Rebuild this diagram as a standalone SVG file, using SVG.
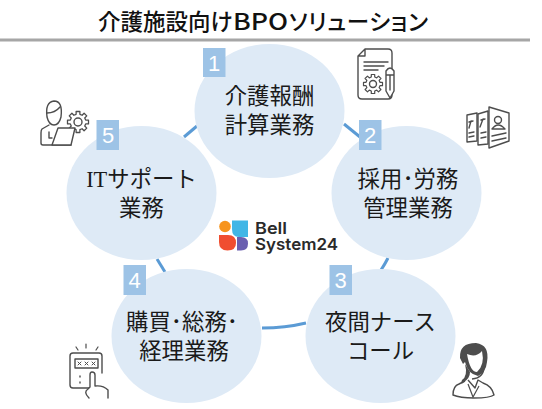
<svg xmlns="http://www.w3.org/2000/svg" width="542" height="409" viewBox="0 0 542 409">
<style>
.c{fill:#deeaf6}
.b{fill:#9dc3e6}
.n{font:22.4px "Noto Sans CJK JP","Noto Sans",sans-serif;fill:#1a1a1a;text-anchor:middle}
.k{font:22px "Liberation Sans",sans-serif;fill:#fff;text-anchor:middle}
.i{fill:none;stroke:#4d4d4d;stroke-width:1.4;stroke-linejoin:round;stroke-linecap:round}
.l{fill:none;stroke:#5b9bd5;stroke-width:3}
.g{vector-effect:non-scaling-stroke}
</style>
<defs>
<path id="gear" class="g" d="M7.3-1.8H10V1.8H7.3L6.43 3.89L8.34 5.8L5.8 8.34L3.89 6.43L1.8 7.3V10H-1.8V7.3L-3.89 6.43L-5.8 8.34L-8.34 5.8L-6.43 3.89L-7.3 1.8H-10V-1.8H-7.3L-6.43-3.89L-8.34-5.8L-5.8-8.34L-3.89-6.43L-1.8-7.3V-10H1.8V-7.3L3.89-6.43L5.8-8.34L8.34-5.8L6.43-3.89Z"/>
</defs>
<rect width="542" height="409" fill="#fff"/>
<g id="title">
<text y="30" font-family="'Noto Sans CJK JP','Noto Sans',sans-serif" font-size="22.500" font-weight="500" fill="#111"><tspan x="98">介護施設向け</tspan><tspan x="233" textLength="55" lengthAdjust="spacingAndGlyphs">BPO</tspan><tspan x="289" textLength="139" lengthAdjust="spacing" style="font-feature-settings:'palt'">ソリューション</tspan></text>
<rect x="0" y="38.500" width="530" height="3" fill="#a6a6a6"/>
</g>
<g id="connectors">
<path class="l" d="M184 137L197 126"/>
<path class="l" d="M344 124L360 137"/>
<path class="l" d="M388 258Q385 264 381 270"/>
<path class="l" d="M262 328Q285 328 306 323"/>
<path class="l" d="M157 259L165 272"/>
</g>
<g id="node1">
<ellipse class="c" cx="269.500" cy="111" rx="75" ry="67"/>
<rect class="b" x="203" y="48" width="22.500" height="29"/>
<text class="k" x="214" y="71">1</text>
<text class="n" x="269.500" y="104">介護報酬</text>
<text class="n" x="269.500" y="133">計算業務</text>
</g>
<g id="node2">
<ellipse class="c" cx="406.500" cy="193" rx="75" ry="67"/>
<rect class="b" x="359" y="120" width="22.500" height="30"/>
<text class="k" x="370" y="143">2</text>
<text class="n" x="408" y="187">採用･労務</text>
<text class="n" x="408" y="216">管理業務</text>
</g>
<g id="node3">
<ellipse class="c" cx="380.500" cy="336" rx="75" ry="67"/>
<rect class="b" x="329.500" y="265" width="22.500" height="30"/>
<text class="k" x="340.500" y="288">3</text>
<text class="n" x="380.500" y="330">夜間ナース</text>
<text class="n" x="380.500" y="359">コール</text>
</g>
<g id="node4">
<ellipse class="c" cx="186.500" cy="336" rx="75" ry="67"/>
<rect class="b" x="123.500" y="265" width="22.500" height="30"/>
<text class="k" x="134.500" y="288">4</text>
<text class="n" x="182" y="330">購買･総務･</text>
<text class="n" x="184" y="359">経理業務</text>
</g>
<g id="node5">
<ellipse class="c" cx="141.500" cy="193" rx="75" ry="67"/>
<rect class="b" x="96.500" y="120" width="22.500" height="30"/>
<text class="k" x="108" y="143">5</text>
<text class="n" x="141.500" y="187"><tspan font-family="'Liberation Serif',serif">IT</tspan>サポート</text>
<text class="n" x="141.500" y="216">業務</text>
</g>
<g id="logo">
<circle cx="225" cy="226.500" r="5.800" fill="#f7941d"/>
<path d="M232 220.500H248V237H239Q232 237 232 229Z" fill="#41b6e6"/>
<path d="M219 235H228Q236 235 236 243Q236 250.500 227.500 250.500Q219 250.500 219 242Z" fill="#f04e30"/>
<path d="M237 237H241Q248 237 248 243.500Q248 250.500 241 250.500H237Z" fill="#6a5fb0"/>
<text font-family="Inter,'Liberation Sans',sans-serif" font-size="16.500" font-weight="600" fill="#2a2a2a"><tspan x="255" y="234" textLength="32" lengthAdjust="spacingAndGlyphs">Bell</tspan><tspan x="255" y="250" textLength="83" lengthAdjust="spacingAndGlyphs">System24</tspan></text>
</g>
<g id="icon-document" class="i">
<path d="M365 49H388Q392 49 392 53V68M392 92V95Q392 99 388 99H362Q358 99 358 95V56L365 49V56H358"/>
<path d="M364 62H388M364 66H384M364 70H378"/>
<use href="#gear" transform="translate(373 84) scale(.95)" stroke-width="1.200"/>
<circle cx="373" cy="84" r="3.500"/>
<path d="M386 71Q390 65 394 71V91L390 98L386 91ZM386 75H394M390 75V90" fill="#fff"/>
</g>
<g id="icon-papers" class="i">
<path d="M467 115L477 113V141L467 142Z"/>
<path d="M478 114L488 111V144L478 145Z"/>
<path d="M489 107L509 113V141L489 148Z" fill="#fff"/>
<circle cx="498" cy="120" r="3.500"/>
<path d="M492 129Q498 121 505 129Z"/>
<path d="M492 136L506 133M492 141L506 138"/>
<path d="M469 122L473 121M471 121L469 128M469 133L474 132M469 137L474 136M481 120L485 119M483 119L480 127M481 133L486 132M481 138L486 137"/>
</g>
<g id="icon-engineer" class="i">
<use href="#gear" transform="translate(78 122) scale(1.050)" fill="#fff" stroke-width="1.300"/>
<circle cx="78" cy="122" r="4"/>
<path d="M47 117Q45 102 54 101Q63 101 61 117Q59 125 54 125Q49 125 47 117Z"/>
<path d="M47 113Q55 113 60 107"/>
<path d="M49 125L42 129Q41 130 41 133V143Q41 145 43 145H71"/>
<path d="M49 132V138H52"/>
<path d="M58 128H75L71 145H52Z" fill="#fff"/>
</g>
<g id="icon-keypad" class="i">
<path d="M102 388H73Q70 388 70 385V356Q70 353 73 353H99Q102 353 102 356V373"/>
<rect x="75" y="359" width="23" height="9"/>
<path d="M78 362L81 365M81 362L78 365M85 362L88 365M88 362L85 365M92 362L95 365M95 362L92 365" stroke-width="1"/>
<path d="M80 376V377M80 382V383"/>
<path d="M86 344V348M76 347L78 350M98 347L96 350" stroke-width="1.200"/>
<path d="M89 398Q83 392 88 389L90 387V375Q90 372 92 372Q95 372 95 375V386Q103 385 108 390V398" fill="#fff"/>
</g>
<g id="icon-operator">
<path d="M460 358Q459 343 476 343Q490 345 487 362Q486 372 478 376Q468 374 465 362L463 364Z" fill="#4d4d4d"/>
<path d="M467 354Q476 358 482 351Q485 365 477 372Q470 372 467 354Z" fill="#fff"/>
<path d="M465 364Q468 376 462 380Q460 386 464 382Q470 378 470 372Z" fill="#4d4d4d"/>
<path d="M484 366Q484 378 472 379" fill="none" stroke="#4d4d4d" stroke-width="1.500"/>
<path d="M465 381L459 384Q453 386 453 395Q460 398 474 398Q490 398 494 395Q492 386 483 383L478 380L475 388L468 380" fill="none" stroke="#4d4d4d" stroke-width="1.400" stroke-linejoin="round"/>
<path d="M468 384L473 397L479 386" fill="none" stroke="#4d4d4d" stroke-width="1.200"/>
</g>
</svg>
